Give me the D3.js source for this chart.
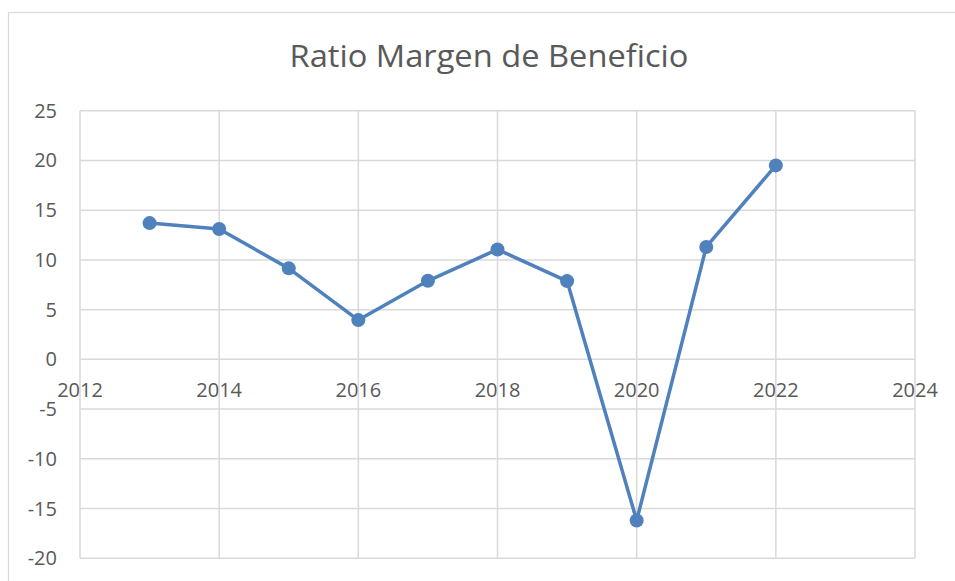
<!DOCTYPE html>
<html><head><meta charset="utf-8">
<script src="https://cdn.jsdelivr.net/npm/d3@7"></script>
<style>body{margin:0;background:#fff;} svg{display:block;}</style>
</head><body>
<svg id="c" width="955" height="581"></svg>
<script>
const years = [2013, 2014, 2015, 2016, 2017, 2018, 2019, 2020, 2021, 2022];
const ratio = [13.7, 13.1, 9.15, 3.95, 7.9, 11.05, 7.87, -16.2, 11.3, 19.5];
const xTicks = [2012, 2014, 2016, 2018, 2020, 2022, 2024];
const yTicks = [25, 20, 15, 10, 5, 0, -5, -10, -15, -20];
const title = "Ratio Margen de Beneficio";

const svg = d3.select("#c");
const font = "'Open Sans', sans-serif";
const grid = "#d9d9d9", txt = "#595959", lineC = "#4f81bd";

svg.append("rect").attr("x", 8.5).attr("y", 12.5).attr("width", 960).attr("height", 600)
  .attr("fill", "#fff").attr("stroke", grid).attr("stroke-width", 1.2);

const x = d3.scaleLinear().domain([2012, 2024]).range([80, 915]);
const y = d3.scaleLinear().domain([-20, 25]).range([558.3, 110.7]);

svg.append("g").selectAll("line").data(yTicks).join("line")
  .attr("x1", x(2012)).attr("x2", x(2024)).attr("y1", d => y(d)).attr("y2", d => y(d))
  .attr("stroke", grid).attr("stroke-width", 1.5);
svg.append("g").selectAll("line").data(xTicks).join("line")
  .attr("x1", d => x(d)).attr("x2", d => x(d)).attr("y1", y(25)).attr("y2", y(-20))
  .attr("stroke", grid).attr("stroke-width", 1.5);

svg.append("g").selectAll("text").data(yTicks).join("text")
  .attr("x", 57).attr("y", d => y(d)).attr("dy", "0.35em").attr("text-anchor", "end")
  .attr("font-family", font).attr("font-size", 20).attr("fill", txt).text(d => d);
svg.append("g").selectAll("text").data(xTicks).join("text")
  .attr("x", d => x(d)).attr("y", y(0) + 38).attr("text-anchor", "middle")
  .attr("font-family", font).attr("font-size", 20).attr("fill", txt).text(d => d);

svg.append("text").attr("x", 489).attr("y", 67).attr("text-anchor", "middle")
  .attr("font-family", font).attr("font-size", 31).attr("fill", txt)
  .attr("textLength", 399).attr("lengthAdjust", "spacingAndGlyphs").text(title);

const data = years.map((yr, i) => ({yr, v: ratio[i]}));
svg.append("path").datum(data)
  .attr("d", d3.line().x(d => x(d.yr)).y(d => y(d.v)))
  .attr("fill", "none").attr("stroke", lineC).attr("stroke-width", 3.5).attr("stroke-linejoin", "round");
svg.append("g").selectAll("circle").data(data).join("circle")
  .attr("cx", d => x(d.yr)).attr("cy", d => y(d.v)).attr("r", 7).attr("fill", lineC);
</script>
</body></html>
